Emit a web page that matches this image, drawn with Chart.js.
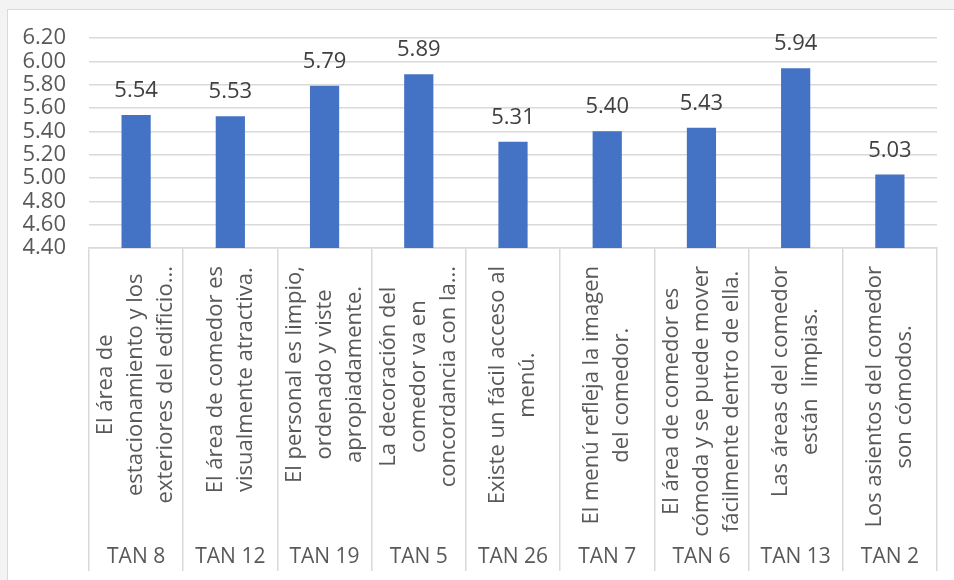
<!DOCTYPE html>
<html>
<head>
<meta charset="utf-8">
<script src="https://cdn.jsdelivr.net/npm/chart.js@4"></script>
<style>
    body { margin: 0; background: #f3f3f3; }
    #frame {
        position: absolute; left: 7px; top: 9px; width: 960px; height: 580px;
        background: #ffffff; border: 1px solid #d9d9d9;
    }
    #chart { position: absolute; left: 0; top: 0; }
</style>
</head>
<body>
<div id="frame"></div>
<canvas id="chart" width="954" height="580"></canvas>
<script>
// TAN codes shown in the bottom row of the category axis
const codes = ["TAN 8", "TAN 12", "TAN 19", "TAN 5", "TAN 26", "TAN 7", "TAN 6", "TAN 13", "TAN 2"];

// question text, already split into lines like the original
const questions = [
    ["El área de", "estacionamiento y los", "exteriores del edificio..."],
    ["El área de comedor es", "visualmente atractiva."],
    ["El personal es limpio,", "ordenado y viste", "apropiadamente."],
    ["La decoración del", "comedor va en", "concordancia con la..."],
    ["Existe un fácil acceso al", "menú."],
    ["El menú refleja la imagen", "del comedor."],
    ["El área de comedor es", "cómoda y se puede mover", "fácilmente dentro de ella."],
    ["Las áreas del comedor", "están  limpias."],
    ["Los asientos del comedor", "son cómodos."]
];

const values = [5.54, 5.53, 5.79, 5.89, 5.31, 5.40, 5.43, 5.94, 5.03];

const yMin = 4.4;
const yMax = 6.2;
const yStep = 0.2;

const FONT = '"Open Sans", "Noto Sans", sans-serif';

// draws value labels, rotated question text and TAN codes
const labelPlugin = {
    id: "labelPlugin",
    afterDatasetsDraw(chart) {
        const ctx = chart.ctx;
        const xScale = chart.scales.x;
        const meta = chart.getDatasetMeta(0);
        ctx.save();

        // values above the bars
        ctx.font = "22px " + FONT;
        ctx.fillStyle = "#404040";
        ctx.textAlign = "center";
        ctx.textBaseline = "alphabetic";
        meta.data.forEach((bar, i) => {
            ctx.fillText(values[i].toFixed(2), bar.x, bar.y - 18);
        });

        // rotated questions
        ctx.fillStyle = "#595959";
        ctx.textBaseline = "middle";
        questions.forEach((lines, i) => {
            const cx = xScale.getPixelForValue(i);
            const maxW = Math.max(...lines.map(l => ctx.measureText(l).width));
            const cy = xScale.top + 18 + maxW / 2;
            lines.forEach((line, j) => {
                const lx = cx + (j - (lines.length - 1) / 2) * 30;
                ctx.save();
                ctx.translate(lx, cy);
                ctx.rotate(-Math.PI / 2);
                ctx.fillText(line, 0, 0);
                ctx.restore();
            });
        });

        // TAN codes
        ctx.font = "21px " + FONT;
        ctx.textBaseline = "alphabetic";
        codes.forEach((code, i) => {
            ctx.fillText(code, xScale.getPixelForValue(i), xScale.bottom - 8);
        });

        ctx.restore();
    }
};

new Chart(document.getElementById("chart").getContext("2d"), {
    type: "bar",
    data: {
        labels: codes,
        datasets: [{
            data: values,
            backgroundColor: "#4472C4",
            barPercentage: 0.31,
            categoryPercentage: 1
        }]
    },
    options: {
        responsive: false,
        animation: false,
        layout: { padding: { left: 0, right: 17, top: 38, bottom: 9 } },
        plugins: {
            legend: { display: false },
            tooltip: { enabled: false }
        },
        scales: {
            x: {
                grid: {
                    drawOnChartArea: false,
                    tickLength: 323,
                    color: "#d9d9d9",
                    lineWidth: 1.5
                },
                border: { color: "#d9d9d9", width: 1.5 },
                ticks: { display: false }
            },
            y: {
                min: yMin,
                max: yMax,
                afterFit: scale => { scale.width = 89; },
                grid: { color: "#d9d9d9", lineWidth: 1.5, drawTicks: false },
                border: { display: false },
                ticks: {
                    stepSize: yStep,
                    autoSkip: false,
                    padding: 23,
                    color: "#595959",
                    font: { family: FONT, size: 22 },
                    callback: v => v.toFixed(2)
                }
            }
        }
    },
    plugins: [labelPlugin]
});
</script>
</body>
</html>
